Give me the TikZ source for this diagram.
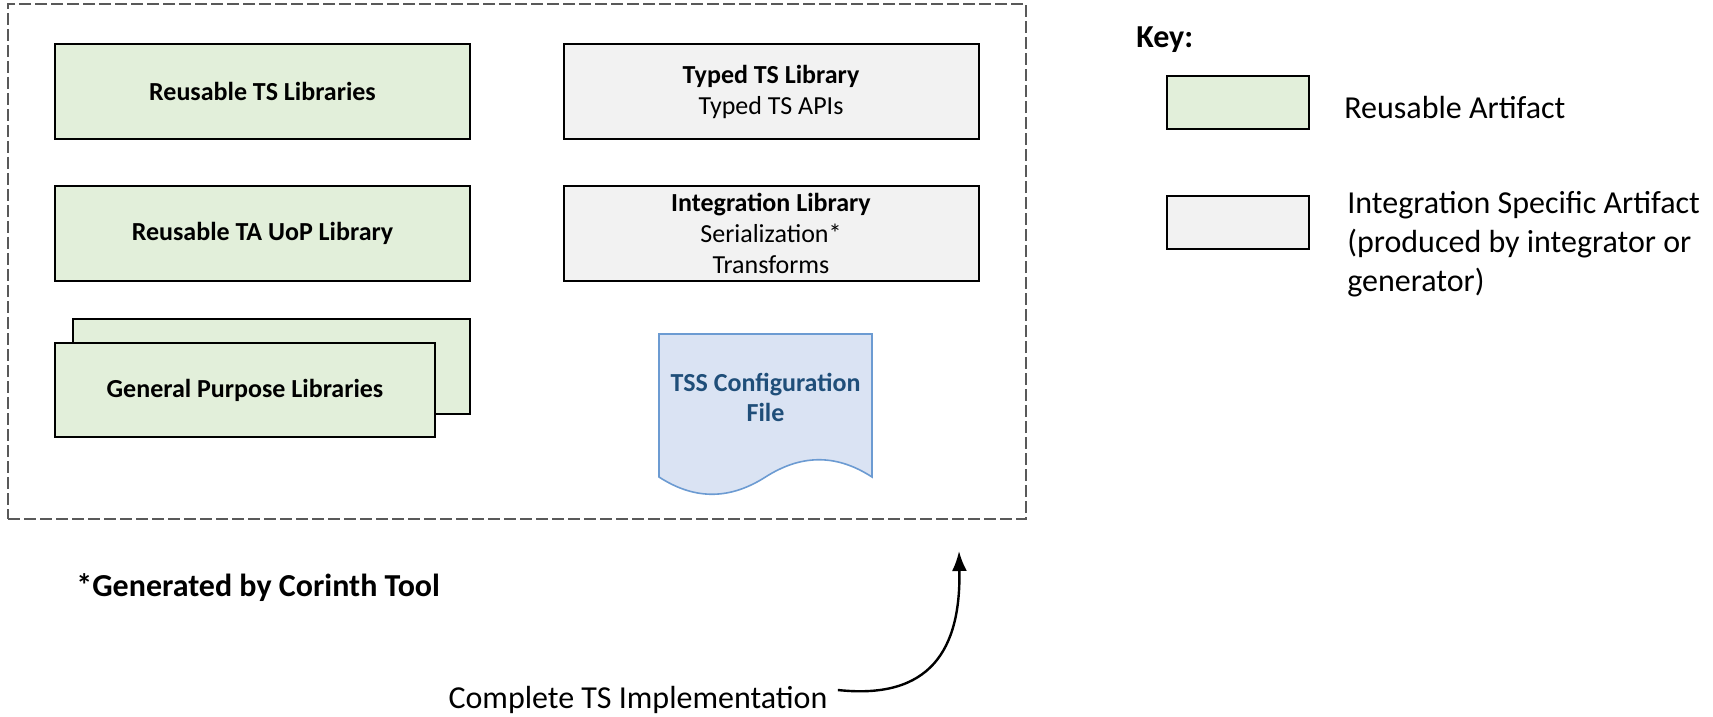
\documentclass[tikz,border=0pt]{standalone}
\usepackage{fontspec}
\setmainfont{Carlito}
\usetikzlibrary{positioning, arrows.meta}
\definecolor{reusegreen}{HTML}{E2EFDA}
\definecolor{specgray}{HTML}{F2F2F2}
\definecolor{docfill}{HTML}{DAE3F3}
\definecolor{docline}{HTML}{6C9BD2}
\definecolor{doctext}{HTML}{1F4E79}
\definecolor{framegray}{HTML}{595959}

\begin{document}
\begin{tikzpicture}[x=0.5pt, y=-0.5pt, >=Latex,
  art/.style={rectangle, draw=black, line width=1pt, minimum width=207.5pt,
              minimum height=47.5pt, align=center, inner sep=2pt,
              font=\fontsize{13}{15.5}\selectfont},
  reuse/.style={art, fill=reusegreen},
  spec/.style={art, fill=specgray},
  keybox/.style={rectangle, draw=black, line width=1pt,
                 minimum width=71pt, minimum height=26.5pt},
  keytext/.style={align=left, inner sep=0pt,
                  font=\fontsize{16}{19.5}\selectfont}
]
  \useasboundingbox (0,0) rectangle (1713,717);

  %% ── outer frame ──
  \node[draw=framegray, dashed, dash pattern=on 6pt off 2pt, line width=0.6pt,
        minimum width=509pt, minimum height=257.5pt] (frame) at (517,261.5) {};

  %% ── reusable artifacts (left column) ──
  \node[reuse] (RTS) at (262.5,91.5)  {\textbf{Reusable TS Libraries}};
  \node[reuse] (RTA) at (262.5,233.5) {\textbf{Reusable TA UoP Library}};
  \node[reuse, minimum width=198.5pt] (GPback) at (271.5,366.5) {};
  \node[reuse, minimum width=190pt, minimum height=47pt]
                (GP)  at (245,390)   {\textbf{General Purpose Libraries}};

  %% ── integration specific artifacts (right column) ──
  \node[spec] (TTS) at (771,91.5)  {\textbf{Typed TS Library}\\Typed TS APIs};
  \node[spec] (IL)  at (771,233.5)
    {\textbf{Integration Library}\\Serialization*\\Transforms};

  %% ── configuration file (document shape) ──
  \draw[draw=docline, fill=docfill, line width=0.8pt]
    (659,334) -- (872,334) -- (872,477)
    .. controls (835,453) and (800,455) .. (765.5,477)
    .. controls (731,499) and (696,501) .. (659,477) -- cycle;
  \node[align=center, text=doctext, font=\fontsize{13}{15}\selectfont\bfseries]
    (TSS) at (765.5,397) {TSS Configuration\\File};

  %% ── key ──
  \node[anchor=west, inner sep=0pt, font=\fontsize{16}{19}\selectfont\bfseries]
    (key) at (1136,40) {Key:};
  \node[keybox, fill=reusegreen] (K1) at (1238,102.75) {};
  \node[keybox, fill=specgray]   (K2) at (1238,222.25) {};
  \node[keytext, anchor=west] (K1t) at (1344,108) {Reusable Artifact};
  \node[keytext, anchor=north west] (K2t) at (1347,191)
    {Integration Specific Artifact\\(produced by integrator or\\generator)};

  %% ── footnote ──
  \node[anchor=west, inner sep=0pt, font=\fontsize{16}{19}\selectfont\bfseries]
    (note) at (76,588) {*Generated by Corinth Tool};

  %% ── implementation arrow ──
  \node[font=\fontsize{16}{19}\selectfont, inner sep=0pt]
    (impl) at (638,700) {Complete TS Implementation};
  \coordinate (tip) at (959,551);
  \draw[line width=1.2pt, -{Latex[length=10pt, width=7.5pt]}]
    ([xshift=5pt, yshift=5pt]impl.east)
    .. controls (930,700) and (961,650) .. (tip);
\end{tikzpicture}
\end{document}
